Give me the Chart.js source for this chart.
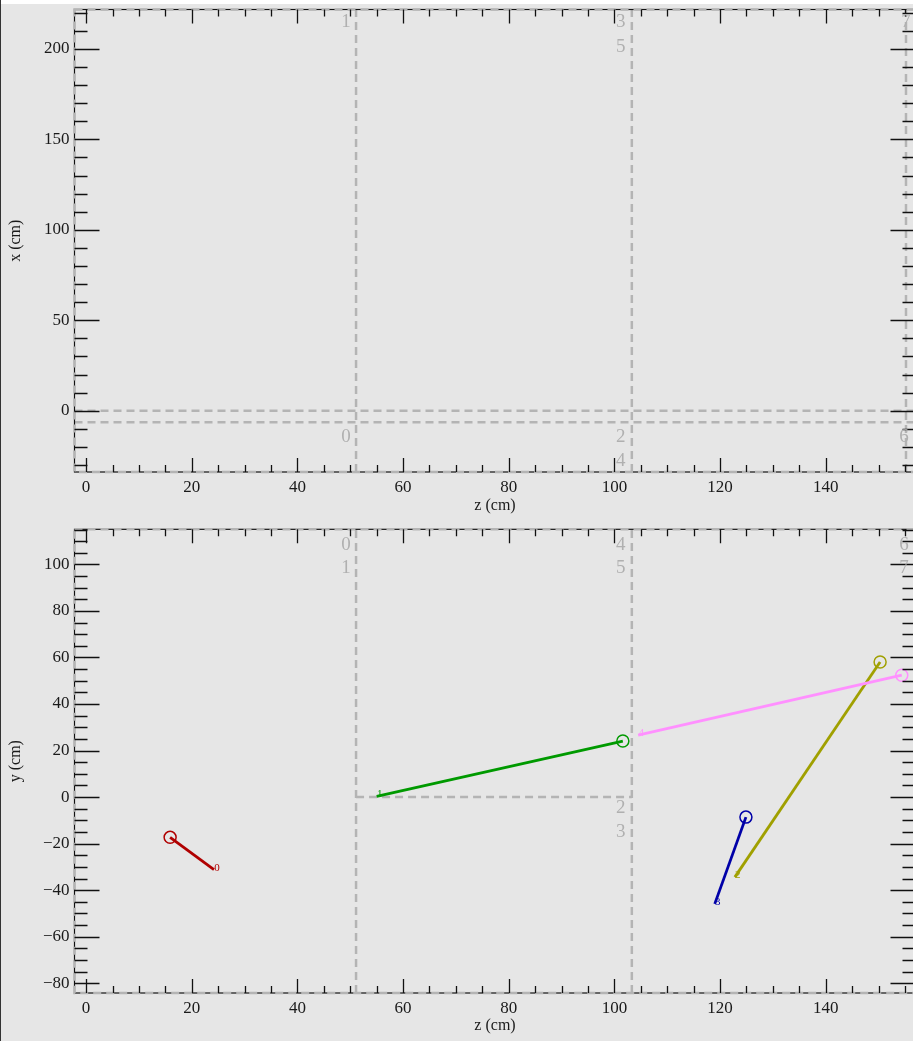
<!DOCTYPE html>
<html>
<head>
<meta charset="utf-8">
<script src="https://cdn.jsdelivr.net/npm/chart.js@4.4.1/dist/chart.umd.min.js"></script>
<style>
  html, body { margin: 0; padding: 0; background: #e6e6e6; width: 913px; height: 1041px; overflow: hidden; }
  #wrap { position: relative; width: 913px; height: 1041px; overflow: hidden; background: #e6e6e6; }
  #topstrip { position: absolute; left: 0; top: 0; width: 913px; height: 4px; background: #ffffff; z-index: 2; }
  #edge { position: absolute; left: 0; top: 0; width: 1px; height: 1041px; background: #333; z-index: 2; }
  canvas { position: absolute; left: 0; }
</style>
</head>
<body>
<div id="wrap">
  <div id="topstrip"></div>
  <div id="edge"></div>
  <canvas id="xz" width="930" height="520" style="top:0px"></canvas>
  <canvas id="yz" width="930" height="521" style="top:520px"></canvas>
</div>
<script>
// ---- axis ranges and tick labels (cm) ----
const Z_RANGE = [-2.2, 157.0];
const X_RANGE = [-33.9, 221.8];
const Y_RANGE = [-84.2, 115.1];
const Z_TICKS = [0, 20, 40, 60, 80, 100, 120, 140];
const X_TICKS = [0, 50, 100, 150, 200];
const Y_TICKS = [-80, -60, -40, -20, 0, 20, 40, 60, 80, 100];

// ---- detector module outlines ----
const MODULE_Z = [51.1, 103.3, 155.2];          // module boundaries along z
const XZ_PLANE_X = [0, -6.4];                    // horizontal boundaries in the x-z view
const YZ_SPLIT_Y = 0;                            // horizontal split in the y-z view
const YZ_SPLIT_Z = [51.1, 103.3];

// corner numbers of the modules
const XZ_CORNER_TEXT = ['1', '3', '5', '7', '0', '2', '4', '6'];
const XZ_CORNER_Z    = [49.2, 101.2, 101.2, 155.2, 49.2, 101.2, 101.2, 154.8];
const XZ_CORNER_X    = [214.9, 214.9, 201.1, 214.9, -14.5, -14.5, -27.8, -14.5];
const YZ_CORNER_TEXT = ['0', '1', '4', '5', '6', '7', '2', '3'];
const YZ_CORNER_Z    = [49.2, 49.2, 101.2, 101.2, 154.8, 154.8, 101.2, 101.2];
const YZ_CORNER_Y    = [108.3, 98.5, 108.3, 98.5, 108.3, 98.5, -4.9, -15.2];

// ---- reconstructed tracks in the y-z view (start point first) ----
const TRACK_IDS    = ['0', '1', '4', '2', '3'];
const TRACK_COLORS = ['#b00000', '#009a00', '#ff90ff', '#a0a000', '#0000a8'];
const TRACK_Z = [[15.9, 24.2], [101.6, 55.0], [154.4, 104.5], [150.3, 122.8], [124.9, 119.0]];
const TRACK_Y = [[-17.3, -31.2], [24.1, 0.3], [52.4, 26.6], [58.1, -34.4], [-8.6, -45.9]];

const SERIF = '"Liberation Serif", "Times New Roman", "DejaVu Serif", serif';
const INK = '#1a1a1a';
const OUTLINE = '#b4b4b4';
const DASH = [8, 5];

function fmt(v) { return v < 0 ? '\u2212' + Math.abs(v) : String(v); }

function outlineSet(zs, vs) {
  return {
    type: 'line', data: zs.map((z, i) => ({ x: z, y: vs[i] })),
    borderColor: OUTLINE, borderWidth: 2.5, borderDash: DASH,
    pointRadius: 0, fill: false, order: 10, tension: 0
  };
}

// frame, dashed outline and inward ticks on all four sides
const frameTicks = {
  id: 'frameTicks',
  afterDatasetsDraw(chart, _args, o) {
    const { ctx, chartArea: { left, right, top, bottom }, scales: { x, y } } = chart;
    ctx.save();
    ctx.strokeStyle = '#111'; ctx.lineWidth = 1.2;
    ctx.strokeRect(left, top, right - left, bottom - top);
    ctx.strokeStyle = OUTLINE; ctx.lineWidth = 2.5; ctx.setLineDash(DASH);
    ctx.strokeRect(left, top, right - left, bottom - top);
    ctx.setLineDash([]);
    ctx.strokeStyle = '#111'; ctx.lineWidth = 1.3;
    ctx.beginPath();
    for (let v = Math.ceil(x.min / o.xStep) * o.xStep; v <= x.max; v += o.xStep) {
      const px = Math.round(x.getPixelForValue(v)) + 0.5;
      const L = o.xMajor.includes(v) ? 14 : 7;
      ctx.moveTo(px, bottom); ctx.lineTo(px, bottom - L);
      ctx.moveTo(px, top); ctx.lineTo(px, top + L);
    }
    for (let v = Math.ceil(y.min / o.yStep) * o.yStep; v <= y.max; v += o.yStep) {
      const py = Math.round(y.getPixelForValue(v)) + 0.5;
      const L = o.yMajor.includes(v) ? 25 : 13;
      ctx.moveTo(left, py); ctx.lineTo(left + L, py);
      ctx.moveTo(right, py); ctx.lineTo(right - L, py);
    }
    ctx.stroke();
    ctx.restore();
  }
};

// gray corner numbers and track ids
const markText = {
  id: 'markText',
  afterDatasetsDraw(chart, _args, o) {
    const { ctx, scales: { x, y } } = chart;
    ctx.save();
    ctx.textAlign = 'center'; ctx.textBaseline = 'middle';
    ctx.font = '19px ' + SERIF; ctx.fillStyle = '#b0b0b0';
    o.corners.text.forEach((t, i) => {
      ctx.fillText(t, x.getPixelForValue(o.corners.z[i]), y.getPixelForValue(o.corners.v[i]));
    });
    if (o.tracks) {
      ctx.font = '11px ' + SERIF;
      o.tracks.forEach(tr => {
        ctx.fillStyle = tr.color;
        ctx.fillText(tr.id, x.getPixelForValue(tr.z) + 3, y.getPixelForValue(tr.v) - 2);
      });
    }
    ctx.restore();
  }
};

function axes(vRange, vTicks, vTitle, xTitlePad) {
  return {
    x: {
      type: 'linear', min: Z_RANGE[0], max: Z_RANGE[1],
      grid: { display: false, drawTicks: false }, border: { display: false },
      ticks: { font: { family: SERIF, size: 17 }, color: INK, padding: 5, maxRotation: 0, autoSkip: false, callback: fmt },
      afterBuildTicks: s => { s.ticks = Z_TICKS.map(v => ({ value: v })); },
      afterFit: s => { s.height = 48; s.paddingLeft = 0; s.paddingRight = 0; },
      title: { display: true, text: 'z (cm)', font: { family: SERIF, size: 16 }, color: INK, padding: { top: 0, bottom: xTitlePad } }
    },
    y: {
      type: 'linear', min: vRange[0], max: vRange[1],
      grid: { display: false, drawTicks: false }, border: { display: false },
      ticks: { font: { family: SERIF, size: 17 }, color: INK, padding: 5, autoSkip: false, callback: fmt },
      afterBuildTicks: s => { s.ticks = vTicks.map(v => ({ value: v })); },
      afterFit: s => { s.width = 74.5; s.paddingTop = 0; s.paddingBottom = 0; },
      title: { display: true, text: vTitle, font: { family: SERIF, size: 16 }, color: INK, padding: { top: 6.6, bottom: 0 } }
    }
  };
}

const common = {
  responsive: false, animation: false, events: [],
  plugins: { legend: { display: false }, tooltip: { enabled: false } }
};

// ---- x vs z view ----
const xzSets = [
  ...MODULE_Z.map(z => outlineSet([z, z], X_RANGE)),
  ...XZ_PLANE_X.map(v => outlineSet(Z_RANGE, [v, v]))
];
new Chart(document.getElementById('xz'), {
  type: 'scatter',
  data: { datasets: xzSets },
  options: {
    ...common,
    layout: { padding: { left: 0, top: 9.5, right: 14.5, bottom: 0 } },
    scales: axes(X_RANGE, X_TICKS, 'x (cm)', 4.6),
    plugins: {
      ...common.plugins,
      frameTicks: { xStep: 5, yStep: 10, xMajor: Z_TICKS, yMajor: X_TICKS },
      markText: { corners: { text: XZ_CORNER_TEXT, z: XZ_CORNER_Z, v: XZ_CORNER_X } }
    }
  },
  plugins: [frameTicks, markText]
});

// ---- y vs z view ----
const trackSets = TRACK_Z.map((zs, i) => ({
  type: 'line',
  data: zs.map((z, k) => ({ x: z, y: TRACK_Y[i][k] })),
  borderColor: TRACK_COLORS[i], borderWidth: 2.8, tension: 0, fill: false, order: 0,
  pointRadius: [6, 0], pointBorderWidth: 1.5, pointBackgroundColor: 'rgba(0,0,0,0)',
  pointBorderColor: TRACK_COLORS[i], pointStyle: 'circle'
}));
const yzSets = [
  ...trackSets,
  ...MODULE_Z.slice(0, 2).map(z => outlineSet([z, z], Y_RANGE)),
  outlineSet(YZ_SPLIT_Z, [YZ_SPLIT_Y, YZ_SPLIT_Y])
];
new Chart(document.getElementById('yz'), {
  type: 'scatter',
  data: { datasets: yzSets },
  options: {
    ...common,
    layout: { padding: { left: 0, top: 9.3, right: 14.5, bottom: 0 } },
    scales: axes(Y_RANGE, Y_TICKS, 'y (cm)', 5.6),
    plugins: {
      ...common.plugins,
      frameTicks: { xStep: 5, yStep: 5, xMajor: Z_TICKS, yMajor: Y_TICKS },
      markText: {
        corners: { text: YZ_CORNER_TEXT, z: YZ_CORNER_Z, v: YZ_CORNER_Y },
        tracks: TRACK_IDS.map((id, i) => ({ id, color: TRACK_COLORS[i], z: TRACK_Z[i][1], v: TRACK_Y[i][1] }))
      }
    }
  },
  plugins: [frameTicks, markText]
});
</script>
</body>
</html>
